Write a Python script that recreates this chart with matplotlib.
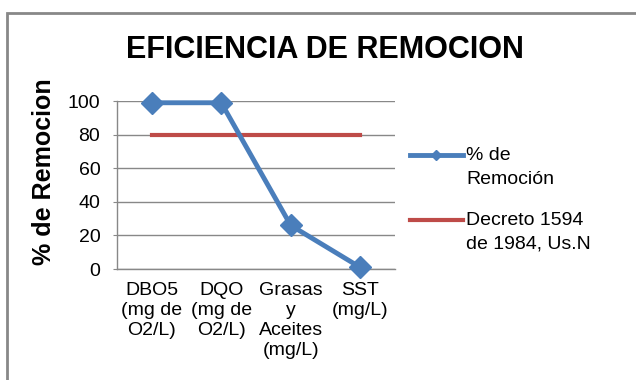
import matplotlib.pyplot as plt
from matplotlib.patches import Rectangle
from matplotlib.transforms import Affine2D

plt.rcParams['font.family'] = ['Liberation Sans', 'DejaVu Sans']

categorias = ['DBO5\n(mg de\nO2/L)', 'DQO\n(mg de\nO2/L)', 'Grasas\ny\nAceites\n(mg/L)', 'SST\n(mg/L)']
remocion = [99, 99, 26, 1]
decreto = [80, 80, 80, 80]
yticks = [0, 20, 40, 60, 80, 100]

azul = '#4A7EBB'
rojo = '#BE4B48'
gris = '#888888'

fig = plt.figure(figsize=(6.36, 3.80), dpi=100)
ax = fig.add_axes([0.184, 0.292, 0.437, 0.442])

x = range(len(categorias))
ax.plot(x, remocion, color=azul, lw=3.5, marker='D', ms=11, label='% de\nRemoción',
        zorder=3, clip_on=False)
ax.plot(x, decreto, color=rojo, lw=3, label='Decreto 1594\nde 1984, Us.N', zorder=2)

ax.set_xlim(-0.5, 3.5)
ax.set_ylim(0, 100)
ax.set_yticks(yticks)
ax.set_xticks(list(x))
ax.set_xticklabels(categorias, fontsize=14, linespacing=1.25, va='top')
ax.tick_params(axis='y', labelsize=14, length=3, color=gris, pad=9)
ax.tick_params(axis='x', length=0, pad=9)
ax.yaxis.grid(True, color=gris, lw=1)
ax.set_axisbelow(True)
for s in ['top', 'right']:
    ax.spines[s].set_visible(False)
for s in ['left', 'bottom']:
    ax.spines[s].set_color(gris)
    ax.spines[s].set_linewidth(1)

fig.text(325 / 636, 1 - 50 / 380, 'EFICIENCIA DE REMOCION', ha='center', va='center',
         fontsize=22, fontweight='bold')
fig.text(44 / 636, 1 - 172 / 380, '% de Remocion', ha='center', va='center',
         rotation=90, fontsize=18, fontweight='bold')

leg = fig.legend(loc='upper left', bbox_to_anchor=(410 / 636, 1 - 147 / 380), frameon=False,
                 fontsize=14, handlelength=2.7, handletextpad=0.2, labelspacing=1.25,
                 borderaxespad=0, borderpad=0, markerscale=0.45)
for t in leg.get_texts():
    t.set_linespacing(1.5)
# subir cada muestra a la altura de la primera linea del texto
for h in leg.legend_handles:
    h.set_transform(h.get_transform() + Affine2D().translate(0, 12))

# marco del grafico
fig.patches.append(Rectangle((7 / 636, -0.1), 1.2, 1 - 13 / 380 + 0.1, transform=fig.transFigure,
                             fill=False, edgecolor=gris, lw=2))

fig.savefig('out.png', dpi=100)
